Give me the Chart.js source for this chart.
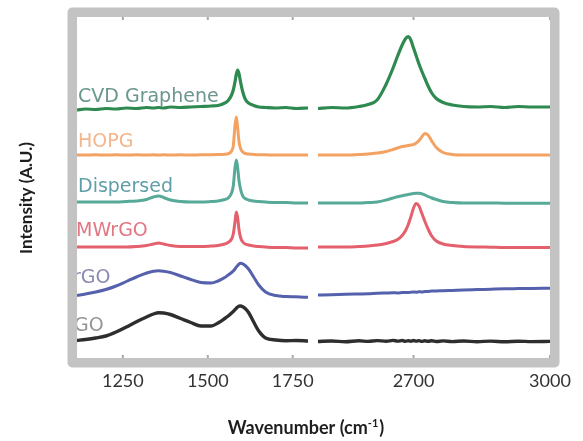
<!DOCTYPE html>
<html><head><meta charset="utf-8">
<script src="https://cdn.jsdelivr.net/npm/chart.js@4.4.1/dist/chart.umd.min.js"></script>
<style>html,body{margin:0;padding:0;background:#fff}</style>
</head><body>
<canvas id="c" width="583" height="441"></canvas>
<script>
// ---------- data ----------
const seriesNames = ['CVD Graphene', 'HOPG', 'Dispersed', 'MWrGO', 'rGO', 'GO'];
const xTicks = [1250, 1500, 1750, 2700, 3000];

const leftWavenumbers = [1115,1140,1170,1200,1230,1260,1290,1320,1340,1355,1370,1390,1420,1450,1480,1510,1530,1550,1560,1570,1575,1580,1584,1588,1592,1597,1603,1610,1620,1635,1650,1670,1700,1730,1760,1795];
const rightWavenumbers = [2490,2520,2550,2580,2600,2620,2640,2655,2665,2675,2682,2688,2694,2700,2706,2712,2718,2725,2732,2740,2750,2765,2785,2810,2840,2870,2900,2930,2960,3000];

const cvdLeft = [248,249,248.5,249.5,249,250,249.5,250.5,250,250.5,250,251,250.5,251,251.5,252,252.5,255,257.5,263,268,276,284,288,284,275,266,259,255,252.5,251,250.5,250,250.5,249.5,250];
const cvdRight = [249.5,250.5,250,251.5,253.5,258,274,290,302,313,319,321.3,318,310,302,294,287,279.5,272,265,259.5,255.5,253,251.5,251,251.5,250.5,251.5,251,251];

const hopgLeft = [203,203,203.2,203,203.2,203,203.2,203,203.2,203,203.2,203,203.2,203,203.2,203.3,203.5,203.8,204.3,207,212,232,241,230,216,209,206,204.5,204,203.6,203.3,203.2,203,203,203,203];
const hopgRight = [203,203,203,203.5,204,205,206.5,208.5,210,211.5,212,212.5,213,213.5,215,217.5,221,224.5,223,217,210.5,205.5,203.5,203,203,203,203,203,203,203];

const dispLeft = [156,156,156,156,156,156.5,157,158.5,161,162,160.5,158,156.5,156,156,156.5,157,158.5,160,165,172,190,198,190,177,168,162,159.5,158,157,156.5,156,155.5,155.5,155,155];
const dispRight = [155,155,155,155,155.5,156,158,160,161.3,162.3,163,163.5,164,164.5,164.7,164.7,164.3,163,161.5,160,158.5,156.5,155.5,155,155,155,154.8,154.8,154.7,154.7];

const mwrgoLeft = [111,111,111,111,111,111,111.5,112.5,114,115,114,112.5,111.5,111.5,111.5,112,112.5,114,115.5,119,124,136,146,140,128,120,116,114,113,112,111.5,111,110.5,110.5,110,110];
const mwrgoRight = [111,111,111,111.5,112,113,114.5,116.5,118.5,122.5,127,133,141,150,154.5,152,145,136.5,129,122,117,114,112.5,111.5,111,110.8,110.5,110.5,110.5,110.5];

const rgoLeft = [62.5,64,66,68.5,72,76.5,81,85,86.8,87.3,86.8,85.5,82,78.5,75.5,75,77,80.5,83,85.5,87,89,91,92.5,94,94.7,94.2,92.5,89,81,73,66,62.5,61.5,61.2,60.7];
const rgoRight = [63,63.3,63.7,64,64.2,64.7,65,65.2,65.1,65.5,65.6,65.4,65.8,66,65.8,66.2,66.1,66.5,66.6,66.9,67,67.3,67.6,68,68.4,68.8,69.2,69.4,69.6,69.8];

const goLeft = [17.5,18.5,20,22,26,31,36.3,41,44,45.3,45,43.5,39.5,35.5,32,32,35,39.5,42,45,46.5,48.3,49.8,51,51.8,52,51.2,49.5,45.5,36,27,20,18,17.3,17.5,17];
const goRight = [16.5,17,16.2,17.2,16.6,17.4,16.8,17.6,16.9,17.5,16.7,17.3,16.8,17.5,16.9,17.4,16.6,17.2,16.7,17.3,16.5,17.1,16.4,17,16.3,16.9,16.2,16.8,16.4,16.6];

// label baselines (in intensity units) for the series names
const labelLevels = [256, 211, 166, 122, 75, 27];

// ---------- styles ----------
const lineColors = ['#2f8a52', '#f3a262', '#57aa98', '#e4606c', '#5561ad', '#2e2e2e'];
const textColors = ['#6a968e', '#f4b68a', '#5f9fa8', '#e27784', '#8b8bb0', '#959595'];
const labelIndent = [1, 1, 1, -1, -4, -3];
const lineWidths = [3.2, 3, 3, 3, 3, 3.4];

// ---------- broken x axis scale ----------
const AXIS_LEFT = [1115, 1795], AXIS_RIGHT = [2490, 3000];
const BREAK_FRAC = [0.4884, 0.5095];
class BrokenAxis extends Chart.LinearScale {
  _dec(v) {
    if (v <= AXIS_LEFT[1]) return (v - AXIS_LEFT[0]) / (AXIS_LEFT[1] - AXIS_LEFT[0]) * BREAK_FRAC[0];
    if (v >= AXIS_RIGHT[0]) return BREAK_FRAC[1] + (v - AXIS_RIGHT[0]) / (AXIS_RIGHT[1] - AXIS_RIGHT[0]) * (1 - BREAK_FRAC[1]);
    return BREAK_FRAC[0] + (v - AXIS_LEFT[1]) / (AXIS_RIGHT[0] - AXIS_LEFT[1]) * (BREAK_FRAC[1] - BREAK_FRAC[0]);
  }
  getPixelForValue(v) {
    if (v === null || v === undefined || isNaN(v)) return NaN;
    return this.getPixelForDecimal(this._dec(v));
  }
  getValueForPixel(p) {
    const d = this.getDecimalForPixel(p);
    if (d <= BREAK_FRAC[0]) return AXIS_LEFT[0] + d / BREAK_FRAC[0] * (AXIS_LEFT[1] - AXIS_LEFT[0]);
    if (d >= BREAK_FRAC[1]) return AXIS_RIGHT[0] + (d - BREAK_FRAC[1]) / (1 - BREAK_FRAC[1]) * (AXIS_RIGHT[1] - AXIS_RIGHT[0]);
    return AXIS_LEFT[1] + (d - BREAK_FRAC[0]) / (BREAK_FRAC[1] - BREAK_FRAC[0]) * (AXIS_RIGHT[0] - AXIS_LEFT[1]);
  }
}
BrokenAxis.id = 'brokenLinear';
BrokenAxis.defaults = Chart.LinearScale.defaults;
Chart.register(BrokenAxis);

function seg(xs, ys) { return xs.map((x, i) => ({ x: x, y: ys[i] })); }
function joined(l, r) { return seg(leftWavenumbers, l).concat([{ x: 2100, y: null }], seg(rightWavenumbers, r)); }

const seriesData = [
  joined(cvdLeft, cvdRight), joined(hopgLeft, hopgRight), joined(dispLeft, dispRight),
  joined(mwrgoLeft, mwrgoRight), joined(rgoLeft, rgoRight), joined(goLeft, goRight)
];

const deco = {
  id: 'deco',
  beforeDatasetsDraw(chart) {
    const ctx = chart.ctx, y = chart.scales.y, a = chart.chartArea;
    ctx.save();
    ctx.font = '19px "DejaVu Sans"';
    ctx.textAlign = 'left';
    ctx.textBaseline = 'alphabetic';
    seriesNames.forEach((n, i) => {
      ctx.fillStyle = textColors[i];
      ctx.fillText(n, a.left + labelIndent[i], y.getPixelForValue(labelLevels[i]));
    });
    ctx.restore();
  },
  afterDraw(chart) {
    const ctx = chart.ctx, a = chart.chartArea, xs = chart.scales.x;
    ctx.save();
    ctx.fillStyle = '#a8a8a8';
    xTicks.forEach(v => {
      const px = xs.getPixelForValue(v);
      ctx.fillRect(px - 1, a.bottom - 3, 2, 3);
      ctx.fillRect(px - 1, a.top, 2, 3);
    });
    ctx.strokeStyle = '#c3c3c3';
    ctx.lineWidth = 9.5;
    ctx.lineJoin = 'round';
    ctx.strokeRect(a.left - 4.75, a.top - 4.75, a.right - a.left + 9.5, a.bottom - a.top + 9.5);
    ctx.fillStyle = '#1e1e1e';
    ctx.save();
    ctx.translate(27, 198);
    ctx.rotate(-Math.PI / 2);
    ctx.font = 'bold 17px Lato';
    ctx.textAlign = 'center';
    ctx.textBaseline = 'middle';
    ctx.fillText('Intensity (A.U.)', 0, 0);
    ctx.restore();
    const p1 = 'Wavenumber (cm', p2 = '-1', p3 = ')';
    ctx.font = 'bold 18px Lato';
    const w1 = ctx.measureText(p1).width, w3 = ctx.measureText(p3).width;
    ctx.font = 'bold 11px Lato';
    const w2 = ctx.measureText(p2).width;
    const sx = 306 - (w1 + w2 + w3 + 1) / 2, by = 434;
    ctx.textAlign = 'left';
    ctx.textBaseline = 'alphabetic';
    ctx.font = 'bold 18px Lato';
    ctx.fillText(p1, sx, by);
    ctx.font = 'bold 11px Lato';
    ctx.fillText(p2, sx + w1, by - 7);
    ctx.font = 'bold 18px Lato';
    ctx.fillText(p3, sx + w1 + w2 + 1, by);
    ctx.restore();
  }
};

new Chart(document.getElementById('c'), {
  type: 'line',
  data: {
    datasets: seriesNames.map((n, i) => ({
      label: n,
      data: seriesData[i],
      borderColor: lineColors[i],
      borderWidth: lineWidths[i],
      pointRadius: 0,
      fill: false,
      cubicInterpolationMode: 'monotone',
      spanGaps: false
    }))
  },
  options: {
    responsive: false,
    animation: false,
    devicePixelRatio: 1,
    layout: { padding: { top: 17, right: 33, left: 0, bottom: 0 } },
    plugins: { legend: { display: false }, tooltip: { enabled: false } },
    scales: {
      x: {
        type: 'brokenLinear',
        min: 1115, max: 3000,
        afterBuildTicks: s => { s.ticks = xTicks.map(v => ({ value: v })); },
        afterFit: s => { s.height = 83; },
        grid: { display: false, drawTicks: false },
        border: { display: false },
        ticks: { autoSkip: false, maxRotation: 0, padding: 12, color: '#333', font: { family: 'Lato', size: 18 }, callback: v => String(v) }
      },
      y: {
        type: 'linear', min: 0, max: 341,
        afterFit: s => { s.width = 77; },
        grid: { display: false, drawTicks: false },
        border: { display: false },
        ticks: { display: false }
      }
    }
  },
  plugins: [deco]
});
</script>
</body></html>
